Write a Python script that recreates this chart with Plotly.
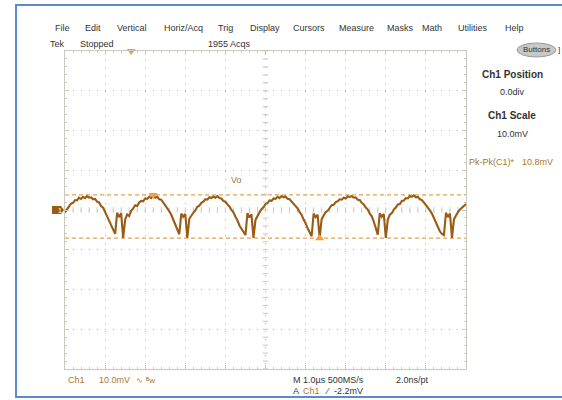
import numpy as np
import plotly.graph_objects as go

# ---------------- data ----------------
t_start_us = -5.0      # left edge of record (µs)
t_step_us = 0.05       # sample spacing (µs)
ch1_mV = [
    # segment before first glitch
    -0.6, 0.3, 0.9, 1.6, 1.8, 2.5, 2.4, 3.1, 2.8, 3.3, 3.0, 3.5, 3.1, 3.2, 2.7, 2.8,
    2.1, 1.9, 1.0, 0.6, -0.5, -1.2, -2.6, -3.4, -4.9, -6.0, -0.7, -1.8, -0.8,
    # period 1
    -7.0, -2.4, -1.1, -1.5, -0.2, 0.4, 1.2, 1.0, 1.9, 2.3, 2.2, 2.9, 2.8, 3.3, 3.0, 3.8,
    3.1, 3.3, 2.7, 2.6, 1.9, 1.4, 0.6, -0.3, -1.2, -2.5, -3.8, -5.0, -6.1, -0.9, -1.7, -1.0,
    # period 2
    -7.0, -2.2, -1.3, -0.7, -0.1, 0.8, 1.1, 1.8, 2.1, 2.7, 2.6, 3.2, 3.0, 3.4, 3.1, 3.5,
    3.0, 2.9, 2.3, 2.1, 1.4, 0.9, 0.0, -0.6, -1.7, -2.6, -3.9, -4.8, -5.7, -6.3, -0.8, -1.9, -1.1,
    # period 3
    -7.0, -2.5, -1.4, -0.6, 0.2, 0.7, 1.5, 1.7, 2.4, 2.3, 2.9, 2.8, 3.3, 3.0, 3.5, 3.2,
    3.4, 2.8, 2.7, 2.1, 1.7, 1.0, 0.4, -0.5, -1.2, -2.4, -3.3, -4.6, -5.7, -6.6, -0.9, -1.8, -1.2,
    # period 4
    -7.1, -2.3, -1.5, -0.5, -0.2, 0.6, 1.2, 1.3, 2.0, 2.2, 2.7, 2.6, 3.1, 2.9, 3.4, 3.3,
    3.5, 3.1, 3.2, 2.6, 2.5, 1.8, 1.4, 0.6, 0.1, -0.9, -1.6, -2.9, -4.4, -6.2, -0.8, -1.7, -1.0,
    # period 5
    -7.0, -2.4, -1.2, -0.8, 0.1, 0.6, 1.4, 1.5, 2.3, 2.4, 3.0, 2.9, 3.5, 3.3, 3.7, 3.2,
    3.3, 2.7, 2.5, 1.9, 1.3, 0.7, -0.1, -0.9, -2.0, -3.1, -4.2, -5.4, -6.0, -6.3, -0.7, -1.8, -0.9,
    # tail
    -7.0, -2.3, -1.2, -0.5, 0.1, 0.6, 1.2, 1.5,
]
cursor_mV = [3.8, -7.1]          # horizontal measurement cursors
trigger_pos_us = -3.35           # trigger position marker
pkpk_text = "10.8mV"

# ---------------- geometry helpers ----------------
W, H = 562, 400
PL, PR, PT, PB = 65, 466, 51, 369


def px(x):
    return (x - PL) / (PR - PL)


def py(y):
    return (PB - y) / (PB - PT)


TRACE = "#9a5b14"
CURSOR = "#e4a450"
MARK = "#f0a040"
BROWN_TXT = "#a8782e"
GRAT = "#c9c9bd"
FONT = "Liberation Sans, Arial, sans-serif"

t = t_start_us + t_step_us * np.arange(len(ch1_mV))
v = np.array(ch1_mV)

fig = go.Figure()

# centre graticule ticks (decoration)
cx = np.arange(-5, 5.001, 0.2)
cy = np.arange(-40, 40.001, 2)
fig.add_trace(go.Scatter(x=cx, y=np.zeros_like(cx), mode="markers",
                         marker=dict(symbol="line-ns", size=4, line=dict(width=1, color="#c8c8c8")),
                         hoverinfo="skip"))
fig.add_trace(go.Scatter(x=np.zeros_like(cy), y=cy, mode="markers",
                         marker=dict(symbol="line-ew", size=4, line=dict(width=1, color="#c8c8c8")),
                         hoverinfo="skip"))

# waveform
fig.add_trace(go.Scatter(x=t, y=v, mode="lines", line=dict(color=TRACE, width=2.1),
                         hoverinfo="skip"))

# pk-pk markers
imax, imin = int(np.argmax(v)), int(np.argmin(v))
fig.add_trace(go.Scatter(x=[t[imax]], y=[cursor_mV[0]], mode="markers",
                         marker=dict(symbol="triangle-down", size=8, color=MARK),
                         hoverinfo="skip", cliponaxis=False))
fig.add_trace(go.Scatter(x=[t[imin]], y=[cursor_mV[1]], mode="markers",
                         marker=dict(symbol="triangle-up", size=8, color=MARK),
                         hoverinfo="skip", cliponaxis=False))
# trigger position marker
fig.add_trace(go.Scatter(x=[trigger_pos_us], y=[40], mode="markers",
                         marker=dict(symbol="triangle-down", size=8, color=MARK),
                         hoverinfo="skip", cliponaxis=False))

# cursors
for c in cursor_mV:
    fig.add_shape(type="line", xref="paper", x0=0, x1=1, yref="y", y0=c, y1=c,
                  line=dict(color=CURSOR, width=1.2, dash="4px,3px"), layer="below")

# blue frame
fig.add_shape(type="rect", xref="paper", yref="paper",
              x0=px(16), x1=px(570), y0=py(397), y1=py(5),
              line=dict(color="#5a8bd2", width=2), layer="below")

# channel tag on left
fig.add_shape(type="path", xref="paper", yref="paper",
              path=f"M {px(52)} {py(206)} L {px(61)} {py(206)} L {px(64)} {py(210)} "
                   f"L {px(61)} {py(214)} L {px(52)} {py(214)} Z",
              fillcolor="#9a5b14", line=dict(width=0))
fig.add_annotation(x=px(56), y=py(210), xref="paper", yref="paper", text="1",
                   showarrow=False, font=dict(family=FONT, size=7, color="white"))

# Buttons pill
fig.add_shape(type="circle", xref="paper", yref="paper",
              x0=px(517), x1=px(556), y0=py(57), y1=py(43),
              fillcolor="#c8c8c8", line=dict(color="#9a9a9a", width=1))


def txt(x, y, s, size=9, color="#333333", anchor="left", bold=False):
    if bold:
        s = f"<b>{s}</b>"
    fig.add_annotation(x=px(x), y=py(y), xref="paper", yref="paper", text=s,
                       showarrow=False, xanchor=anchor, yanchor="middle",
                       font=dict(family=FONT, size=size, color=color))


menu = [("File", 53), ("Edit", 83), ("Vertical", 115), ("Horiz/Acq", 162), ("Trig", 216),
        ("Display", 248), ("Cursors", 291), ("Measure", 337), ("Masks", 385), ("Math", 420),
        ("Utilities", 456), ("Help", 503)]
for s, x in menu:
    txt(x, 28, s, size=9)

txt(48, 44, "Tek", size=9)
txt(78, 44, "Stopped", size=9)
txt(206, 44, "1955 Acqs", size=9)
txt(536.5, 50, "Buttons", size=8, anchor="center")
txt(556, 50, "]", size=8)

txt(512, 74, "Ch1 Position", size=10, anchor="center", bold=True)
txt(512, 92, "0.0div", size=9, anchor="center")
txt(512, 116, "Ch1 Scale", size=10, anchor="center", bold=True)
txt(512, 134, "10.0mV", size=9, anchor="center")
txt(467, 162, "Pk-Pk(C1)*", size=9, color=BROWN_TXT)
txt(520, 162, pkpk_text, size=9, color=BROWN_TXT)

txt(229, 180, "Vo", size=9, color=BROWN_TXT)

txt(66, 380, "Ch1", size=9, color=BROWN_TXT)
txt(97, 380, "10.0mV", size=9, color=BROWN_TXT)
txt(134, 380, "∿", size=8, color=BROWN_TXT)
txt(144, 380, "ᴮw", size=8, color=BROWN_TXT)
txt(291, 380, "M 1.0µs 500MS/s", size=9)
txt(394, 380, "2.0ns/pt", size=9)
txt(291, 391, "A", size=9)
txt(301, 391, "Ch1", size=9, color=BROWN_TXT)
txt(323, 391, "⁄", size=9)
txt(332, 391, "-2.2mV", size=9)

axis_common = dict(showgrid=True, gridcolor="#b4b4b4", gridwidth=1, zeroline=False,
                   showticklabels=False, ticks="inside", ticklen=4, tickcolor=GRAT,
                   showline=True, linecolor=GRAT, linewidth=1, mirror="allticks",
                   fixedrange=True)
fig.update_xaxes(range=[-5, 5], dtick=1, tick0=0, griddash="1px,7px",
                 minor=dict(dtick=0.2, ticks="inside", ticklen=2, tickcolor=GRAT, showgrid=False),
                 **axis_common)
fig.update_yaxes(range=[-40, 40], dtick=10, tick0=0, griddash="1px,7px",
                 minor=dict(dtick=2, ticks="inside", ticklen=2, tickcolor=GRAT, showgrid=False),
                 **axis_common)

fig.update_layout(width=W, height=H, showlegend=False,
                  margin=dict(l=PL, r=W - PR, t=PT, b=H - PB, pad=0),
                  paper_bgcolor="white", plot_bgcolor="white")

fig.write_html("out.html", config={"displayModeBar": False, "staticPlot": True},
               post_script="document.body.style.margin='0';document.body.style.padding='0';")
